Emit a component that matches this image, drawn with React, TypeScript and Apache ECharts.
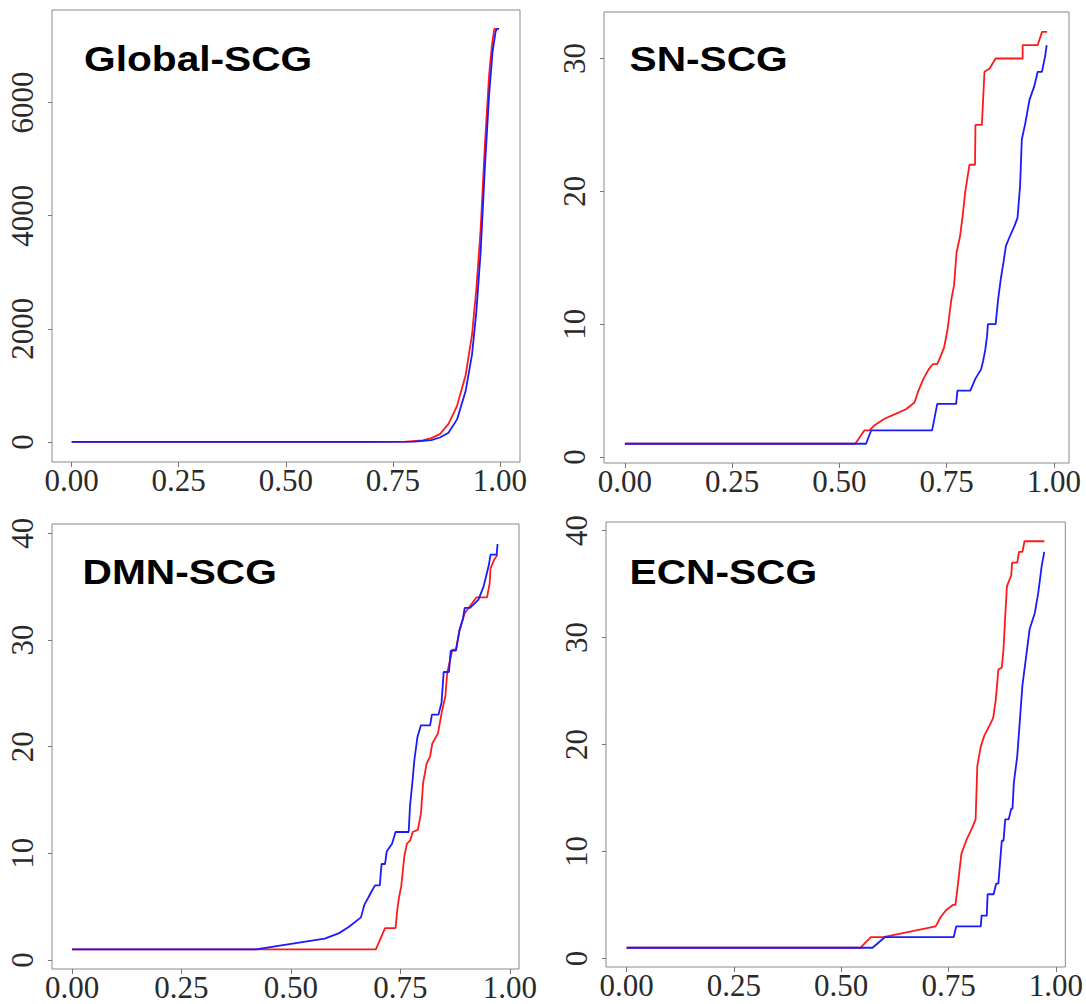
import React, { useEffect, useRef } from "react";
import * as echarts from "echarts";

// Cumulative curves: [threshold, count]
const globalRed: [number, number][] = [
  [0, 1], [0.7, 2], [0.78, 8], [0.82, 30], [0.84, 70], [0.86, 140], [0.88, 320],
  [0.9, 640], [0.92, 1180], [0.935, 1900], [0.945, 2700], [0.955, 3750],
  [0.965, 5250], [0.975, 6500], [0.982, 7050], [0.987, 7300], [0.992, 7300],
];
const globalBlue: [number, number][] = [
  [0, 1], [0.7, 2], [0.8, 8], [0.84, 35], [0.86, 80], [0.88, 165], [0.9, 400],
  [0.92, 900], [0.935, 1550], [0.945, 2300], [0.955, 3350], [0.965, 4850],
  [0.975, 6150], [0.983, 6900], [0.99, 7250], [0.993, 7300], [0.998, 7300],
];

const snRed: [number, number][] = [
  [0, 1], [0.537, 1], [0.558, 2], [0.57, 2], [0.582, 2.4], [0.606, 2.9], [0.631, 3.25],
  [0.655, 3.6], [0.675, 4.1], [0.683, 4.9], [0.696, 5.9], [0.708, 6.6], [0.718, 7],
  [0.728, 7], [0.736, 7.6], [0.744, 8.25], [0.752, 9.6], [0.761, 11.9], [0.767, 12.9],
  [0.773, 15.4], [0.781, 16.6], [0.787, 18.1], [0.793, 19.9], [0.803, 22], [0.816, 22],
  [0.817, 25], [0.832, 25], [0.838, 29], [0.85, 29.25], [0.864, 30], [0.927, 30],
  [0.927, 31], [0.962, 31], [0.972, 32], [0.984, 32],
];
const snBlue: [number, number][] = [
  [0, 1], [0.562, 1], [0.574, 2], [0.716, 2], [0.728, 4], [0.772, 4], [0.775, 5],
  [0.805, 5], [0.817, 5.9], [0.83, 6.6], [0.835, 7.25], [0.84, 8.1], [0.844, 9.1],
  [0.846, 10], [0.864, 10], [0.87, 11.9], [0.876, 13.4], [0.882, 14.6], [0.888, 15.9],
  [0.897, 16.6], [0.908, 17.4], [0.915, 18], [0.921, 20.4], [0.925, 23.9], [0.933, 25.1],
  [0.943, 26.9], [0.954, 27.9], [0.962, 29], [0.972, 29], [0.979, 30.1], [0.983, 31],
];

const dmnRed: [number, number][] = [
  [0, 1], [0.694, 1], [0.715, 3], [0.739, 3], [0.743, 4.7], [0.747, 5.9], [0.752, 6.9],
  [0.759, 9.7], [0.765, 10.9], [0.773, 11.25], [0.778, 12], [0.79, 12.2], [0.797, 13.75],
  [0.802, 16.6], [0.81, 18.4], [0.818, 19.1], [0.823, 20.3], [0.836, 21.25], [0.844, 23.1],
  [0.853, 24.8], [0.857, 26.9], [0.869, 29.1], [0.877, 29.1], [0.885, 30.9], [0.897, 32.5],
  [0.924, 34], [0.948, 34], [0.954, 35.3], [0.956, 36.7], [0.964, 37.5], [0.972, 38],
];
const dmnBlue: [number, number][] = [
  [0, 1], [0.42, 1], [0.577, 2], [0.609, 2.5], [0.632, 3.1], [0.66, 4], [0.668, 5.2],
  [0.68, 6.1], [0.692, 7], [0.703, 7], [0.707, 9], [0.715, 9], [0.719, 10.2],
  [0.731, 10.9], [0.739, 12], [0.769, 12], [0.772, 14.4], [0.778, 16.9], [0.782, 18.75],
  [0.789, 20.9], [0.797, 22], [0.818, 22], [0.822, 23], [0.837, 23], [0.844, 24.1],
  [0.849, 27], [0.861, 27], [0.865, 29], [0.877, 29], [0.885, 30.9], [0.893, 32],
  [0.897, 33], [0.909, 33], [0.928, 33.75], [0.94, 35], [0.952, 37], [0.956, 38],
  [0.97, 38], [0.972, 39],
];

const ecnRed: [number, number][] = [
  [0, 1], [0.545, 1], [0.569, 2], [0.598, 2], [0.72, 3], [0.732, 3.9], [0.744, 4.5],
  [0.76, 5], [0.766, 5], [0.772, 7], [0.78, 9.8], [0.792, 11.1], [0.805, 12.2],
  [0.813, 13], [0.817, 18], [0.825, 19.8], [0.833, 20.8], [0.847, 21.9], [0.854, 22.5],
  [0.86, 24.2], [0.866, 27], [0.874, 27.2], [0.878, 28.9], [0.882, 32], [0.886, 34.8],
  [0.896, 35.8], [0.898, 37], [0.91, 37], [0.914, 38], [0.922, 38], [0.927, 39], [0.973, 39],
];
const ecnBlue: [number, number][] = [
  [0, 1], [0.573, 1], [0.602, 2], [0.762, 2], [0.768, 3], [0.825, 3], [0.827, 4],
  [0.839, 4], [0.841, 6], [0.855, 6], [0.861, 7], [0.866, 7], [0.874, 11], [0.878, 11],
  [0.882, 13], [0.89, 13], [0.896, 14], [0.899, 14], [0.902, 16.4], [0.91, 18.9],
  [0.914, 21.1], [0.922, 25.5], [0.93, 28], [0.939, 30.8], [0.951, 32.3], [0.959, 34.2],
  [0.967, 36.7], [0.973, 38],
];

const xTicks = [0, 0.25, 0.5, 0.75, 1];
const globalYTicks = [0, 2000, 4000, 6000];
const snYTicks = [0, 10, 20, 30];
const dmnYTicks = [0, 10, 20, 30, 40];
const ecnYTicks = [0, 10, 20, 30, 40];

const titles = ["Global-SCG", "SN-SCG", "DMN-SCG", "ECN-SCG"];

const RED = "#ff1a1a";
const BLUE = "#1a1aff";
const SERIF = "'Liberation Serif', 'DejaVu Serif', serif";
const SANS = "'Liberation Sans', Arial, sans-serif";

const panels = [
  {
    title: titles[0], red: globalRed, blue: globalBlue, yTicks: globalYTicks,
    box: { left: 52, top: 10, width: 468, height: 452 },
    xr: [-0.046, 1.047], yr: [-353, 7634], titlePos: [84, 59.5],
  },
  {
    title: titles[1], red: snRed, blue: snBlue, yTicks: snYTicks,
    box: { left: 604, top: 12, width: 465, height: 451 },
    xr: [-0.0486, 1.035], yr: [-0.45, 33.5], titlePos: [629.5, 58.7],
  },
  {
    title: titles[2], red: dmnRed, blue: dmnBlue, yTicks: dmnYTicks,
    box: { left: 52, top: 524, width: 467, height: 445 },
    xr: [-0.0457, 1.021], yr: [-0.84, 40.87], titlePos: [82.5, 572],
  },
  {
    title: titles[3], red: ecnRed, blue: ecnBlue, yTicks: ecnYTicks,
    box: { left: 606, top: 522, width: 460, height: 445 },
    xr: [-0.048, 1.022], yr: [-0.8, 40.8], titlePos: [629.5, 572],
  },
];

function buildOption() {
  const grid = panels.map((p) => ({
    ...p.box,
    show: true,
    borderColor: "#8a8a8a",
    borderWidth: 1,
    backgroundColor: "transparent",
    containLabel: false,
  }));

  const xAxis = panels.map((p, i) => ({
    type: "value",
    gridIndex: i,
    position: "bottom",
    min: p.xr[0],
    max: p.xr[1],
    axisLine: { show: false, onZero: false },
    splitLine: { show: false },
    axisTick: {
      show: true,
      customValues: xTicks,
      length: 5,
      lineStyle: { color: "#777", width: 1 },
    },
    axisLabel: {
      customValues: xTicks,
      formatter: (v: number) => v.toFixed(2),
      fontFamily: SERIF,
      fontSize: 31,
      lineHeight: 23,
      color: "#2a2a2a",
      margin: 7,
    },
  }));

  const yAxis = panels.map((p, i) => ({
    type: "value",
    gridIndex: i,
    position: "left",
    min: p.yr[0],
    max: p.yr[1],
    axisLine: { show: false, onZero: false },
    splitLine: { show: false },
    axisTick: {
      show: true,
      customValues: p.yTicks,
      length: 4,
      lineStyle: { color: "#777", width: 1 },
    },
    axisLabel: {
      customValues: p.yTicks,
      formatter: (v: number) => String(v),
      rotate: 90,
      fontFamily: SERIF,
      fontSize: 31,
      lineHeight: 26,
      color: "#2a2a2a",
      margin: 17,
    },
  }));

  const series: any[] = [];
  panels.forEach((p, i) => {
    [
      { data: p.red, color: RED },
      { data: p.blue, color: BLUE },
    ].forEach((s) => {
      series.push({
        type: "line",
        xAxisIndex: i,
        yAxisIndex: i,
        data: s.data,
        showSymbol: false,
        symbol: "none",
        lineStyle: { color: s.color, width: 1.8 },
        itemStyle: { color: s.color },
        z: s.color === BLUE ? 3 : 2,
      });
    });
  });

  const graphic = panels.map((p) => ({
    type: "text",
    x: p.titlePos[0],
    y: p.titlePos[1],
    scaleY: 0.86,
    z: 10,
    style: {
      text: p.title,
      fontFamily: SANS,
      fontWeight: "bold",
      fontSize: 40.7,
      fill: "#000",
      align: "left",
      verticalAlign: "middle",
    },
  }));

  return {
    animation: false,
    backgroundColor: "#ffffff",
    grid,
    xAxis,
    yAxis,
    series,
    graphic,
  };
}

export default function App() {
  const ref = useRef<HTMLDivElement>(null);

  useEffect(() => {
    if (!ref.current) return;
    const chart = echarts.init(ref.current, undefined, { renderer: "svg" });
    chart.setOption(buildOption() as any);
    return () => chart.dispose();
  }, []);

  return (
    <div
      ref={ref}
      style={{ position: "absolute", left: 0, top: 0, width: 1086, height: 1004, background: "#fff" }}
    />
  );
}
